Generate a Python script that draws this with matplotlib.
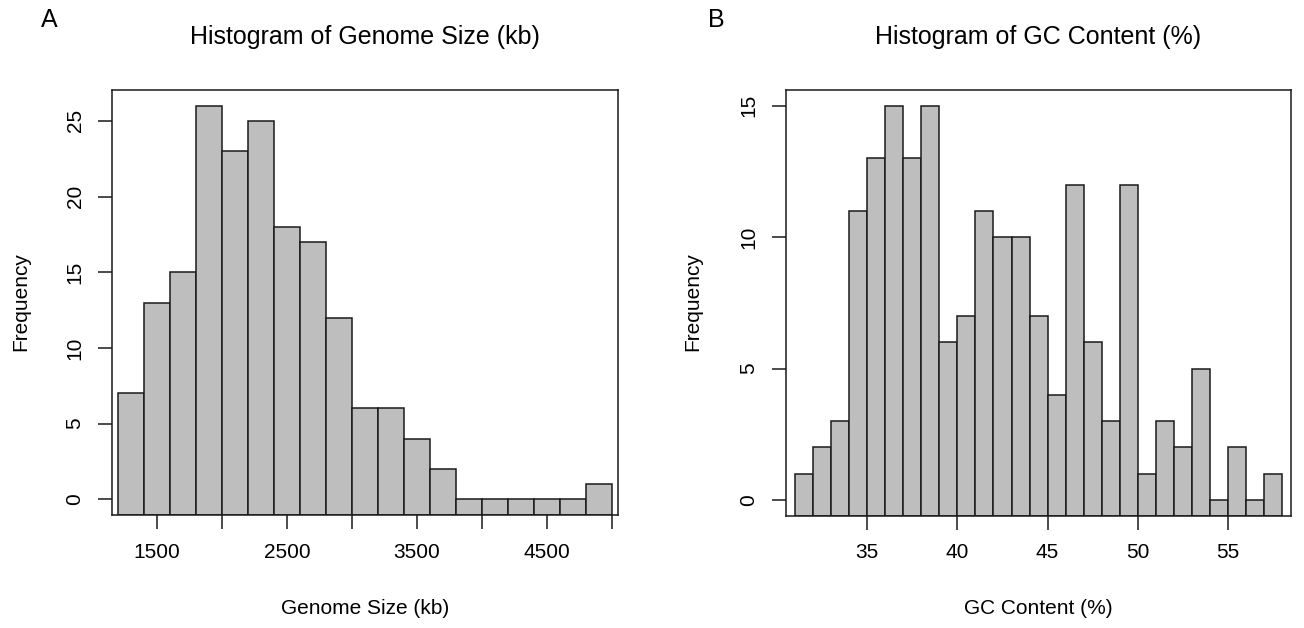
import matplotlib
matplotlib.use("Agg")
import matplotlib.pyplot as plt

plt.rcParams['font.family'] = ['Liberation Sans', 'DejaVu Sans']

# Genome size histogram (kb), 200 kb bins
gs_edges = [1200, 1400, 1600, 1800, 2000, 2200, 2400, 2600, 2800, 3000,
            3200, 3400, 3600, 3800, 4000, 4200, 4400, 4600, 4800, 5000]
gs_counts = [7, 13, 15, 26, 23, 25, 18, 17, 12, 6, 6, 4, 2, 0, 0, 0, 0, 0, 1]
gs_ticks = [1500, 2000, 2500, 3000, 3500, 4000, 4500, 5000]
gs_ticklabels = ['1500', '', '2500', '', '3500', '', '4500', '']

# GC content histogram (%), 1% bins
gc_edges = [31, 32, 33, 34, 35, 36, 37, 38, 39, 40, 41, 42, 43, 44, 45,
            46, 47, 48, 49, 50, 51, 52, 53, 54, 55, 56, 57, 58]
gc_counts = [1, 2, 3, 11, 13, 15, 13, 15, 6, 7, 11, 10, 10, 7, 4,
             12, 6, 3, 12, 1, 3, 2, 5, 0, 2, 0, 1]
gc_ticks = [35, 40, 45, 50, 55]

W, H = 1304, 628
fig = plt.figure(figsize=(W / 100, H / 100), dpi=100)


def hist_panel(rect, edges, counts, xlim, ylim, yticks, xticks, xticklabels):
    ax = fig.add_axes(rect)
    lefts = edges[:-1]
    widths = [b - a for a, b in zip(edges[:-1], edges[1:])]
    heights = [c - ylim[0] for c in counts]
    ax.bar(lefts, heights, width=widths, bottom=ylim[0], align='edge',
           color='#bebebe', edgecolor='#1a1a1a', linewidth=1.1)
    ax.set_xlim(*xlim)
    ax.set_ylim(*ylim)
    ax.set_xticks(xticks)
    ax.set_xticklabels(xticklabels)
    ax.set_yticks(yticks)
    ax.set_yticklabels([str(t) for t in yticks], rotation=90, va='center')
    ax.tick_params(direction='out', length=10, width=1.1, labelsize=15,
                   color='#1a1a1a', pad=10)
    for s in ax.spines.values():
        s.set_linewidth(1.1)
        s.set_color('#1a1a1a')
    return ax


def px(x, y):
    return x / W, 1 - y / H


# left panel
hist_panel([112.3 / W, 1 - 515 / H, (618 - 112.3) / W, (515 - 90) / H],
           gs_edges, gs_counts, (1156, 5046), (-1.04, 27.04),
           [0, 5, 10, 15, 20, 25], gs_ticks, gs_ticklabels)
# right panel
hist_panel([785.7 / W, 1 - 515.7 / H, 505.7 / W, (515.7 - 90) / H],
           gc_edges, gc_counts, (30.47, 58.53), (-0.6, 15.6),
           [0, 5, 10, 15], gc_ticks, [str(t) for t in gc_ticks])

fig.text(*px(365, 37), 'Histogram of Genome Size (kb)', fontsize=18,
         ha='center', va='center')
fig.text(*px(1038, 37), 'Histogram of GC Content (%)', fontsize=18,
         ha='center', va='center')
fig.text(*px(49, 20), 'A', fontsize=18, ha='center', va='center')
fig.text(*px(716, 20), 'B', fontsize=18, ha='center', va='center')

fig.text(*px(365, 609), 'Genome Size (kb)', fontsize=15, ha='center', va='center')
fig.text(*px(1038, 609), 'GC Content (%)', fontsize=15, ha='center', va='center')
fig.text(*px(21, 302), 'Frequency', fontsize=15, rotation=90, ha='center', va='center')
fig.text(*px(693, 302), 'Frequency', fontsize=15, rotation=90, ha='center', va='center')

fig.savefig('out.png', dpi=100)
